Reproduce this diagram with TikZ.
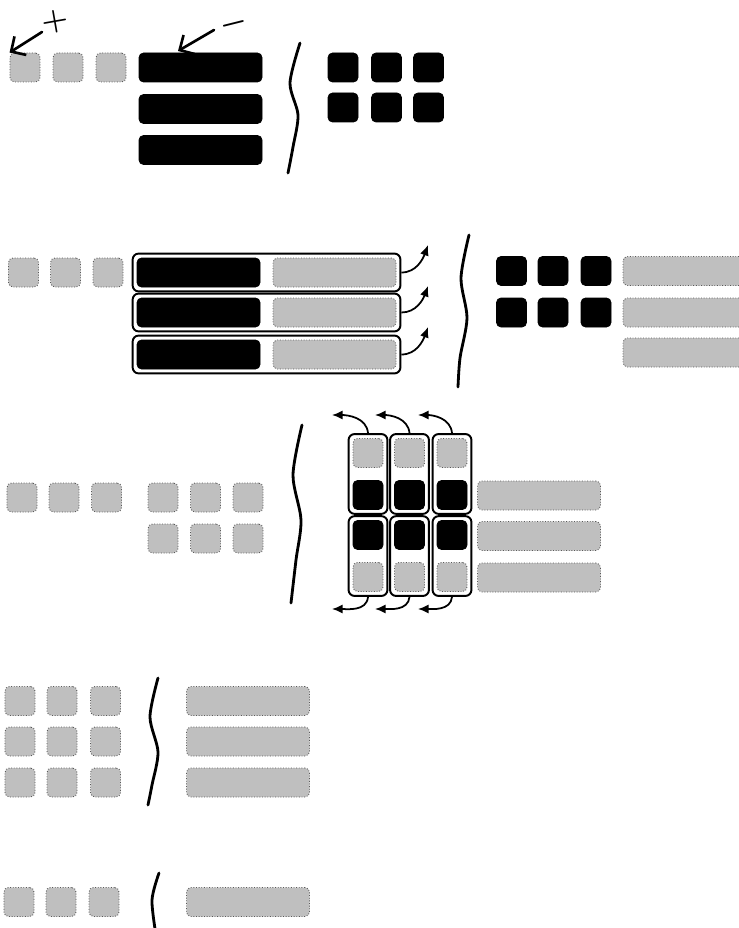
\documentclass[tikz,border=0pt]{standalone}
\usepackage{xcolor}
\usepackage{tikz}
\usetikzlibrary{arrows.meta,fit}

\tikzset{
  gtile/.style={fill=gray!50, draw=gray!70!black, densely dotted, line width=0.5pt, rounded corners=0.9mm, inner sep=0pt},
  btile/.style={fill=black, draw=black, rounded corners=0.9mm, inner sep=0pt},
  sqsize/.style={minimum width=6mm, minimum height=5.8mm},
  barsize/.style={minimum width=24.6mm, minimum height=5.8mm},
  holder/.style={draw, line width=1.1pt, rounded corners=1.2mm, inner sep=0.8mm},
  flip/.style={-{Latex[length=2.1mm,width=1.8mm]}, line width=1pt},
  brace/.style={line width=1.6pt, line cap=round},
  note/.style={-{Straight Barb[length=2.2mm]}, line width=1.5pt, line cap=round}
}

\begin{document}
\begin{tikzpicture}[x=0.2mm,y=0.2mm]
\clip (0,0) rectangle (739,-928);
\fill[white] (0,0) rectangle (739,-928);
% row 1
\foreach \x [count=\i] in {25,68,111}
  \node[gtile,sqsize] (ga\i) at (\x,-67.5) {};
\foreach \y [count=\i] in {67.5,109,150}
  \node[btile,barsize] (ba\i) at (200.5,-\y) {};
\draw[brace] plot[smooth] coordinates {(300,-43) (290,-83) (298,-115) (293,-147) (288,-173)};
\foreach \x [count=\i] in {343,386.5,428.5}{
  \node[btile,sqsize] (bb\i) at (\x,-67.5) {};
  \node[btile,sqsize] (bc\i) at (\x,-107.5) {};
}
\coordinate (plusend) at (42,-32);
\coordinate (minusend) at (214,-30);
\coordinate (minustip) at (178,-51);
\draw[note] (plusend) -- (ga1.north west);
\draw[note] (minusend) -- (minustip);
\node[font=\LARGE\boldmath, rotate=10, inner sep=0pt] (plusmark) at (55,-22) {$+$};
\node[font=\LARGE\boldmath, rotate=14, inner sep=0pt] (minusmark) at (234,-24) {$-$};
% row 2
\foreach \x [count=\i] in {23.5,65.5,108}
  \node[gtile,sqsize] (gd\i) at (\x,-272.5) {};
\foreach \y/\t [count=\i] in {272.5/245,312.5/286,354.5/327}{
  \node[btile,barsize] (be\i) at (198.5,-\y) {};
  \node[gtile,barsize] (ge\i) at (334.5,-\y) {};
  \node[holder,fit=(be\i)(ge\i)] (h\i) {};
  \coordinate (t\i) at (428,-\t);
  \draw[flip] (h\i.east) to[out=0,in=-110] (t\i);
}
\draw[brace] plot[smooth] coordinates {(469,-235) (461,-278) (467,-318) (460,-358) (458,-387)};
\foreach \x [count=\i] in {511.5,553,596}{
  \node[btile,sqsize] (bf\i) at (\x,-271) {};
  \node[btile,sqsize] (bg\i) at (\x,-312.5) {};
}
\foreach \y [count=\i] in {271,312.5,352.5}
  \node[gtile,barsize] (gh\i) at (684.5,-\y) {};
% row 3
\foreach \x [count=\i] in {22,64,106.5}
  \node[gtile,sqsize] (gj\i) at (\x,-497.5) {};
\foreach \x [count=\i] in {163,205.5,248}{
  \node[gtile,sqsize] (gk\i) at (\x,-497.5) {};
  \node[gtile,sqsize] (gl\i) at (\x,-538.5) {};
}
\draw[brace] plot[smooth] coordinates {(302,-425) (293,-475) (301,-520) (296,-560) (291,-603)};
\foreach \x/\u [count=\i] in {368/332,409.5/375,452/418}{
  \node[gtile,sqsize] (gm\i) at (\x,-453) {};
  \node[btile,sqsize] (bm\i) at (\x,-495) {};
  \node[holder,fit=(gm\i)(bm\i)] (vt\i) {};
  \node[btile,sqsize] (bn\i) at (\x,-535) {};
  \node[gtile,sqsize] (gn\i) at (\x,-577) {};
  \node[holder,fit=(bn\i)(gn\i)] (vb\i) {};
  \coordinate (ut\i) at (\u,-415);
  \coordinate (ub\i) at (\u,-609);
  \draw[flip] (vt\i.north) to[out=95,in=0] (ut\i);
  \draw[flip] (vb\i.south) to[out=-95,in=0] (ub\i);
}
\foreach \y [count=\i] in {495.5,536,577.5}
  \node[gtile,barsize] (go\i) at (539,-\y) {};
% row 4
\foreach \y [count=\j] in {701,741.5,782.5}{
  \foreach \x [count=\i] in {20,62,105.5}
    \node[gtile,sqsize] (gp\j\i) at (\x,-\y) {};
  \node[gtile,barsize] (gq\j) at (248,-\y) {};
}
\draw[brace] plot[smooth] coordinates {(158,-678) (150,-717) (158,-752) (152,-785) (148,-805)};
% row 5
\foreach \x [count=\i] in {19,61,104}
  \node[gtile,sqsize] (gr\i) at (\x,-902) {};
\node[gtile,barsize] (gs1) at (248,-902) {};
\draw[brace] plot[smooth] coordinates {(159,-873) (152,-900) (156,-935)};
\end{tikzpicture}
\end{document}
